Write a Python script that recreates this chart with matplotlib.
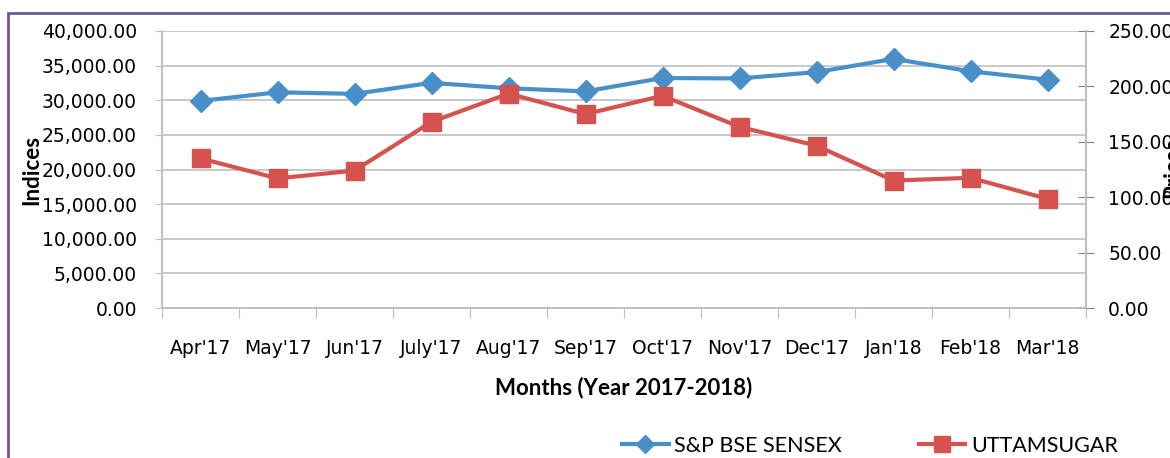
import matplotlib.pyplot as plt
from matplotlib.patches import Rectangle
from matplotlib.ticker import FuncFormatter, MultipleLocator
from matplotlib.lines import Line2D

plt.rcParams['font.family'] = ['DejaVu Sans']

months = ["Apr'17", "May'17", "Jun'17", "July'17", "Aug'17", "Sep'17",
          "Oct'17", "Nov'17", "Dec'17", "Jan'18", "Feb'18", "Mar'18"]
sensex = [29900, 31150, 30920, 32510, 31730, 31280,
          33210, 33150, 34060, 35970, 34180, 32970]
uttam = [135.0, 117.0, 124.0, 168.0, 193.5, 175.0,
         191.5, 163.5, 146.5, 115.0, 117.5, 98.5]

blue = '#4A90C8'
red = '#D5524E'
grid_c = '#BFBFBF'
title_font = ['Lato', 'DejaVu Sans']

fig = plt.figure(figsize=(11.7, 4.58), dpi=100)
W, H = 1170, 458

# purple frame of the chart area (cut at right / bottom like the source)
fig.patches.append(Rectangle((8 / W, -0.1), 1.2, 1 - 13 / H + 0.1,
                             transform=fig.transFigure, fill=False,
                             edgecolor='#6B5B8E', linewidth=2))

ax = fig.add_axes([162 / W, 1 - 308 / H, (1086 - 162) / W, (308 - 31) / H])
ax2 = ax.twinx()

x = list(range(len(months)))
ax.plot(x, sensex, color=blue, lw=3, marker='D', ms=11, mec=blue, mfc=blue, zorder=3)
ax2.plot(x, uttam, color=red, lw=3, marker='s', ms=13, mec=red, mfc=red, zorder=3)

ax.set_xlim(-0.5, len(months) - 0.5)
ax.set_ylim(0, 40000)
ax2.set_ylim(0, 250)
ax.yaxis.set_major_locator(MultipleLocator(5000))
ax2.yaxis.set_major_locator(MultipleLocator(50))
ax.yaxis.set_major_formatter(FuncFormatter(lambda v, p: f'{v:,.2f}'))
ax2.yaxis.set_major_formatter(FuncFormatter(lambda v, p: f'{v:.2f}'))

ax.grid(axis='y', color=grid_c, lw=1.2)
ax.set_axisbelow(True)

# category ticks sit on the boundaries, labels in the middle
ax.set_xticks([i - 0.5 for i in range(len(months) + 1)])
ax.set_xticklabels([])
ax.set_xticks(x, minor=True)
ax.set_xticklabels(months, minor=True, fontsize=13.5)
ax.tick_params(axis='x', which='minor', length=0, pad=22)
ax.tick_params(axis='x', which='major', length=7, color=grid_c, direction='out')

ax.tick_params(axis='y', labelsize=13.5, length=5, color=grid_c, pad=13)
ax2.tick_params(axis='y', labelsize=13.5, length=12, direction='inout',
                color='#808080', pad=10)

for a in (ax, ax2):
    a.spines['top'].set_visible(False)
    for s in ('left', 'right', 'bottom'):
        a.spines[s].set_color(grid_c)
        a.spines[s].set_linewidth(1.2)

ax.set_ylabel('Indices', fontsize=16, fontweight='bold', family=title_font, labelpad=0)
ax.set_xlabel('Months (Year 2017-2018)', fontsize=16, fontweight='bold',
              family=title_font, labelpad=14)
fig.text(1173 / W, 1 - 168 / H, 'Prices', rotation=90, fontsize=16,
         fontweight='bold', family=title_font, ha='center', va='center')

handles = [Line2D([], [], color=blue, lw=3, marker='D', ms=9),
           Line2D([], [], color=red, lw=3, marker='s', ms=11)]
fig.legend(handles, ['S&P BSE SENSEX', 'UTTAMSUGAR'], loc='center',
           bbox_to_anchor=(870 / W, 1 - 446 / H), ncol=2, frameon=False,
           prop={'family': title_font, 'size': 15.5},
           handlelength=2.15, columnspacing=3.6, handletextpad=0.25)

fig.savefig('out.png', dpi=100)
